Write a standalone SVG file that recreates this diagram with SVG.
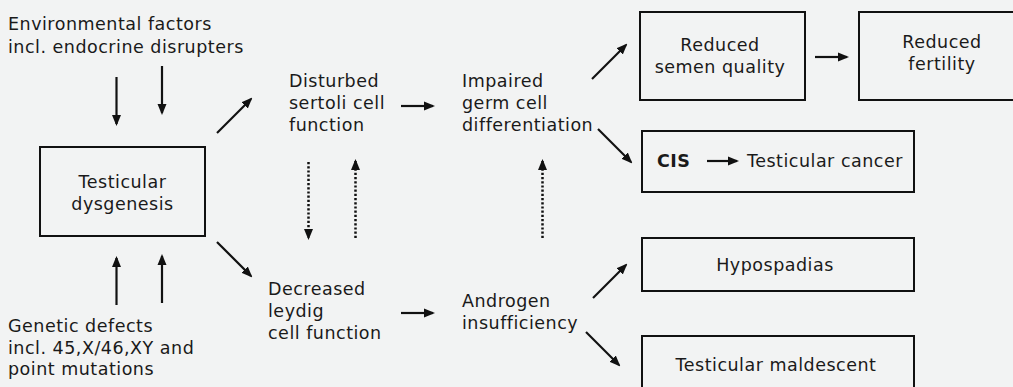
<svg xmlns="http://www.w3.org/2000/svg" width="1013" height="387" viewBox="0 0 1013 387">
<defs>
<marker id="ah" markerUnits="userSpaceOnUse" markerWidth="11" markerHeight="10" viewBox="0 0 11 10" refX="9" refY="5" orient="auto">
<path d="M0,0.5 L11,5 L0,9.5 Z" fill="#111"/>
</marker>
<style>
text{font-family:"DejaVu Sans","Verdana",sans-serif;font-size:17.5px;letter-spacing:0.5px;fill:#1a1a1a}
.c{text-anchor:middle}
.b{font-weight:bold}
rect{fill:none;stroke:#111;stroke-width:2}
.a line{stroke:#111;stroke-width:2.2;marker-end:url(#ah)}
.a line.d{stroke-dasharray:2.2 2;stroke-width:2.5}
</style>
</defs>
<rect x="0" y="0" width="1013" height="387" style="fill:#f2f3f3;stroke:none"/>

<g id="env"><text x="8" y="30">Environmental factors</text><text x="8" y="52.5">incl. endocrine disrupters</text></g>
<g id="gen"><text x="8" y="332">Genetic defects</text><text x="8" y="353.5">incl. 45,X/46,XY and</text><text x="8" y="375">point mutations</text></g>
<g id="dysgenesis"><rect x="40" y="147" width="165" height="89"/><text class="c" x="122.5" y="188">Testicular</text><text class="c" x="122.5" y="210">dysgenesis</text></g>
<g id="sertoli"><text x="289" y="87">Disturbed</text><text x="289" y="109">sertoli cell</text><text x="289" y="131">function</text></g>
<g id="leydig"><text x="268" y="295">Decreased</text><text x="268" y="317">leydig</text><text x="268" y="339">cell function</text></g>
<g id="germ"><text x="462" y="87">Impaired</text><text x="462" y="109">germ cell</text><text x="462" y="131">differentiation</text></g>
<g id="androgen"><text x="462" y="307">Androgen</text><text x="462" y="328.5">insufficiency</text></g>
<g id="semen"><rect x="640" y="12" width="165" height="88"/><text class="c" x="720" y="50.7">Reduced</text><text class="c" x="720" y="72.7">semen quality</text></g>
<g id="fertility"><rect x="859" y="12" width="170" height="88"/><text class="c" x="942" y="48.3">Reduced</text><text class="c" x="942" y="70">fertility</text></g>
<g id="cancer"><rect x="642" y="131" width="272" height="61"/><text class="b" x="657" y="167">CIS</text><text x="747" y="167">Testicular cancer</text></g>
<g id="hypospadias"><rect x="642" y="238" width="272" height="53"/><text class="c" x="775" y="271">Hypospadias</text></g>
<g id="maldescent"><rect x="642" y="336" width="272" height="60"/><text class="c" x="776" y="371">Testicular maldescent</text></g>

<g id="connectors" class="a">
<line x1="116.5" y1="77" x2="116.5" y2="124"/>
<line x1="162" y1="66" x2="162" y2="113"/>
<line x1="116.5" y1="305" x2="116.5" y2="258"/>
<line x1="162" y1="303" x2="162" y2="256"/>
<line x1="217" y1="133" x2="251" y2="99"/>
<line x1="217" y1="242" x2="251" y2="276"/>
<line class="d" x1="308.5" y1="162" x2="308.5" y2="238"/>
<line class="d" x1="355.5" y1="238" x2="355.5" y2="161"/>
<line class="d" x1="542.5" y1="238" x2="542.5" y2="161"/>
<line x1="401" y1="106" x2="433" y2="106"/>
<line x1="401" y1="313" x2="433" y2="313"/>
<line x1="592" y1="79" x2="626" y2="45"/>
<line x1="598" y1="129" x2="631" y2="162"/>
<line x1="593" y1="298" x2="626" y2="265"/>
<line x1="586" y1="332" x2="619" y2="365"/>
<line x1="815" y1="57" x2="847" y2="57"/>
<line x1="707" y1="161" x2="737" y2="161"/>
</g>
</svg>
